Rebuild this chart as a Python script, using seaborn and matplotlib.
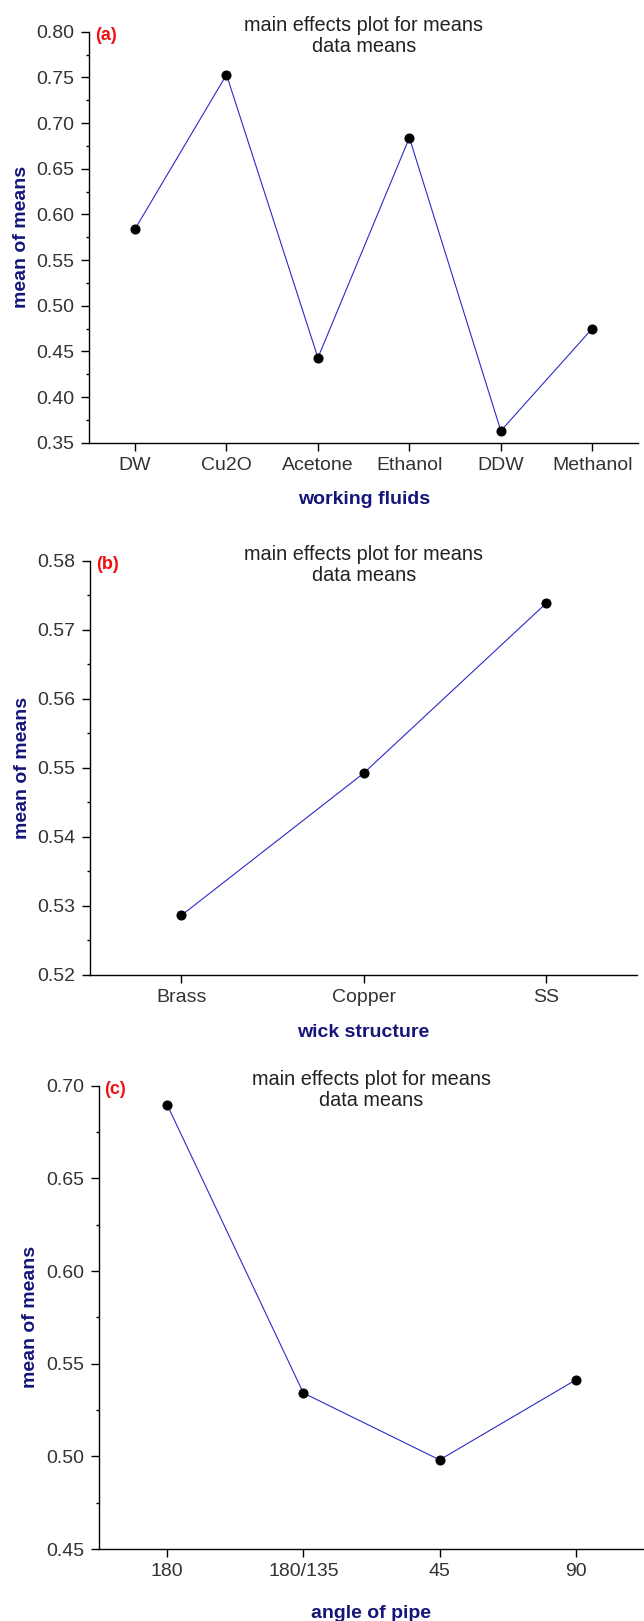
import matplotlib
matplotlib.use('Agg')
import matplotlib.pyplot as plt
import seaborn as sns
from matplotlib.ticker import MultipleLocator, AutoMinorLocator, FormatStrFormatter

# data
fluids = ['DW', 'Cu2O', 'Acetone', 'Ethanol', 'DDW', 'Methanol']
fluid_means = [0.584, 0.753, 0.443, 0.684, 0.363, 0.475]

wicks = ['Brass', 'Copper', 'SS']
wick_means = [0.5286, 0.5492, 0.5738]

angles = ['180', '180/135', '45', '90']
angle_means = [0.6898, 0.5342, 0.4981, 0.5413]

sns.set_style('ticks')
plt.rcParams['font.family'] = ['Liberation Sans', 'DejaVu Sans']

LINE_COLOR = '#2b2bc8'
NAVY = '#15157a'
TEXT_GRAY = '#333333'

fig = plt.figure(figsize=(6.44, 16.21), dpi=100)

panels = [
    # rect, cats, vals, ylim, major step, xlabel, xlabel pad, tag
    ([0.1387, 0.7269, 0.852, 0.2535], fluids, fluid_means, (0.35, 0.80), 0.05, 'working fluids', 12.5, '(a)'),
    ([0.1402, 0.3987, 0.849, 0.2554], wicks, wick_means, (0.52, 0.58), 0.01, 'wick structure', 13, '(b)'),
    ([0.1537, 0.0444, 0.8463, 0.2858], angles, angle_means, (0.45, 0.70), 0.05, 'angle of pipe', 18, '(c)'),
]

for rect, cats, vals, ylim, step, xlabel, xpad, tag in panels:
    ax = fig.add_axes(rect)
    sns.lineplot(x=cats, y=vals, sort=False, color=LINE_COLOR, linewidth=0.8,
                 marker='o', markersize=6.5, markerfacecolor='black',
                 markeredgecolor='black', ax=ax)
    ax.set_xlim(-0.5, len(cats) - 0.5)
    ax.set_ylim(*ylim)
    ax.yaxis.set_major_locator(MultipleLocator(step))
    ax.yaxis.set_minor_locator(AutoMinorLocator(2))
    ax.yaxis.set_major_formatter(FormatStrFormatter('%.2f'))

    sns.despine(ax=ax)
    for s in ['left', 'bottom']:
        ax.spines[s].set_linewidth(1.0)
        ax.spines[s].set_color('black')

    ax.tick_params(axis='both', which='major', length=5.5, width=1.0,
                   labelsize=14, labelcolor=TEXT_GRAY, color='black')
    ax.tick_params(axis='y', which='major', pad=5)
    ax.tick_params(axis='x', which='major', pad=4.5)
    ax.tick_params(axis='y', which='minor', length=2.5, width=1.0, color='black')

    ax.set_ylabel('mean of means', fontsize=14, fontweight='bold', color=NAVY, labelpad=5)
    ax.set_xlabel(xlabel, fontsize=14, fontweight='bold', color=NAVY, labelpad=xpad)

    ax.annotate('main effects plot for means\ndata means', xy=(0.5, 1.0),
                xycoords='axes fraction', xytext=(0, -3), textcoords='offset points',
                ha='center', va='center', fontsize=14.3, color='#222222', linespacing=1.18)
    ax.annotate(tag, xy=(0.0, 1.0), xycoords='axes fraction', xytext=(4, -2.4),
                textcoords='offset points', ha='left', va='center',
                fontsize=13, fontweight='bold', color='#ee1111')

fig.savefig('out.png', dpi=100)
